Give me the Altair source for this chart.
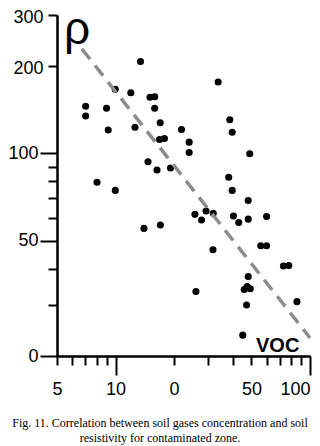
import altair as alt
import pandas as pd

# VOC concentration (x, log) and resistivity rho (y, log)
voc = [7.02, 7.02, 8.99, 9.17, 9.97, 11.98, 13.44, 12.59, 15.04, 15.90,
       15.90, 16.97, 16.83, 17.85, 21.83, 23.91, 23.91, 14.69, 16.34, 19.17,
       8.03, 9.97, 33.7, 38.7, 39.8, 49.0, 38.2, 39.8, 48.1, 25.6,
       27.7, 29.2, 31.8, 40.4, 43.0, 48.1, 59.8, 14.0, 17.0, 31.7,
       55.8, 59.8, 73.0, 77.8, 48.1, 25.9, 45.9, 47.5, 49.3, 47.2,
       85.7, 45.1]
rho = [145.3, 134.5, 143.1, 120.4, 166.3, 161.9, 207.4, 123.1, 156.2, 156.8,
       143.1, 127.5, 111.6, 112.5, 120.9, 109.3, 100.7, 93.6, 87.6, 89.0,
       79.5, 74.5, 176.3, 130.5, 118.2, 99.7, 82.7, 74.5, 68.8, 61.6,
       58.9, 63.3, 62.1, 60.8, 57.7, 59.3, 60.5, 55.1, 56.6, 46.5,
       48.0, 48.0, 40.9, 41.0, 37.6, 33.4, 33.9, 34.7, 34.1, 30.0,
       30.8, 23.6]

trend_voc = [6.72, 100]
trend_rho = [229, 23.1]

x_major = [10, 100]
x_minor = [5, 6, 7, 8, 9, 20, 30, 40, 50, 60, 70, 80, 90]
y_major = [20, 50, 100]
y_minor = [30, 40, 60, 70, 80, 90, 200, 300]

caption = ["Fig. 11. Correlation between soil gases concentration and soil",
           "resistivity for contaminated zone."]

pts = pd.DataFrame({"voc": voc, "rho": rho})
trend = pd.DataFrame({"voc": trend_voc, "rho": trend_rho})

xs = alt.Scale(type="log", domain=[5, 100], nice=False)
ys = alt.Scale(type="log", domain=[20, 300], nice=False)

axis_common = dict(grid=False, domainColor="black", domainWidth=2, tickColor="black",
                   tickWidth=2, labelFont="Liberation Sans", labelFontSize=18,
                   labelColor="black", labelOverlap=False,
                   labelBound=False, title=None)

x_ax_major = alt.Axis(orient="bottom", values=x_major, tickSize=19, labelPadding=5,
                      labelFlush=True,
                      labelExpr="datum.value == 10 ? '10' : '100'", **axis_common)
x_ax_minor = alt.Axis(orient="bottom", values=x_minor, tickSize=9, labelPadding=15,
                      labelFlush=False,
                      labelExpr="datum.value == 5 ? '5' : datum.value == 20 ? '0' : datum.value == 50 ? '50' : ''",
                      **axis_common)
y_ax_major = alt.Axis(orient="left", values=y_major, tickSize=17, labelPadding=2,
                      labelFlush=False,
                      labelExpr="datum.value == 20 ? '0' : datum.value == 50 ? '50' : '100'",
                      **axis_common)
y_ax_minor = alt.Axis(orient="left", values=y_minor, tickSize=9, labelPadding=5,
                      labelFlush=False, labelOffset=2,
                      labelExpr="datum.value == 200 ? '200' : datum.value == 300 ? '300' : ''",
                      **axis_common)

points = alt.Chart(pts).mark_circle(size=50, color="black", opacity=1).encode(
    x=alt.X("voc:Q", scale=xs, axis=x_ax_major),
    y=alt.Y("rho:Q", scale=ys, axis=y_ax_major),
)

line = alt.Chart(trend).mark_line(color="#8c8c8c", strokeWidth=3.5, strokeDash=[13, 8]).encode(
    x=alt.X("voc:Q", scale=xs, axis=x_ax_minor),
    y=alt.Y("rho:Q", scale=ys, axis=y_ax_minor),
)

rho_label = alt.Chart(pd.DataFrame({"t": ["ρ"]})).mark_text(
    font="Liberation Sans", fontSize=46, align="left", baseline="alphabetic", color="black"
).encode(text="t:N", x=alt.value(7), y=alt.value(29))

voc_label = alt.Chart(pd.DataFrame({"t": ["VOC"]})).mark_text(
    font="Liberation Sans", fontSize=20, fontWeight="bold", align="left",
    baseline="alphabetic", color="black"
).encode(text="t:N", x=alt.value(199), y=alt.value(337))

cap1 = alt.Chart(pd.DataFrame({"t": [caption[0]]})).mark_text(
    font="Liberation Serif", fontSize=12, align="center", baseline="middle", color="black"
).encode(text="t:N", x=alt.value(103), y=alt.value(408))
cap2 = alt.Chart(pd.DataFrame({"t": [caption[1]]})).mark_text(
    font="Liberation Serif", fontSize=12, align="center", baseline="middle", color="black"
).encode(text="t:N", x=alt.value(103), y=alt.value(423))

chart = alt.layer(points, line, rho_label, voc_label, cap1, cap2).resolve_axis(
    x="independent", y="independent"
).properties(
    width=253, height=341,
    autosize=alt.AutoSizeParams(type="none"),
    padding={"left": 49, "top": 7, "right": 2, "bottom": 90},
).configure_view(stroke=None)

chart.save("out.html", embed_options={"renderer": "svg", "actions": False})
